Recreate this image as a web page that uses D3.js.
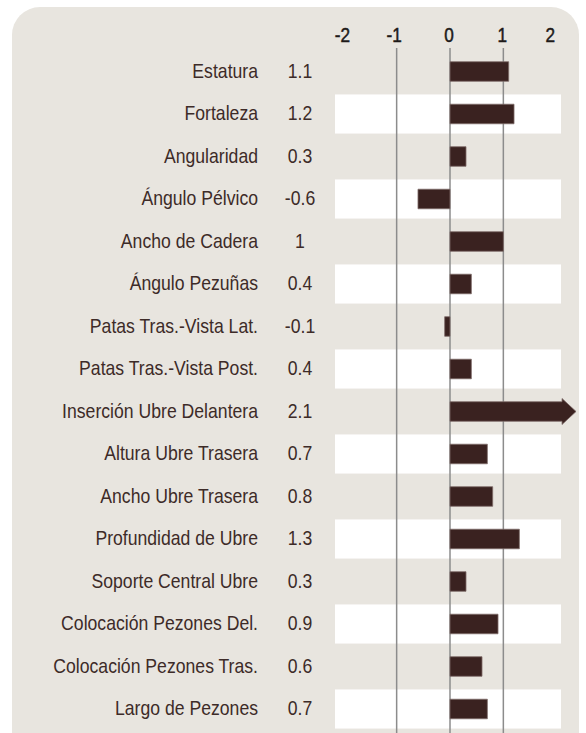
<!DOCTYPE html>
<html>
<head>
<meta charset="utf-8">
<script src="https://cdn.jsdelivr.net/npm/d3@7"></script>
<style>
  body { margin: 0; background: #fff; }
  svg { display: block; }
</style>
</head>
<body>
<svg id="chart" width="586" height="733"></svg>
<script>
// chart data
var traits = [
  'Estatura', 'Fortaleza', 'Angularidad', 'Ángulo Pélvico', 'Ancho de Cadera',
  'Ángulo Pezuñas', 'Patas Tras.-Vista Lat.', 'Patas Tras.-Vista Post.',
  'Inserción Ubre Delantera', 'Altura Ubre Trasera', 'Ancho Ubre Trasera',
  'Profundidad de Ubre', 'Soporte Central Ubre', 'Colocación Pezones Del.',
  'Colocación Pezones Tras.', 'Largo de Pezones'
];
var values = [1.1, 1.2, 0.3, -0.6, 1, 0.4, -0.1, 0.4, 2.1, 0.7, 0.8, 1.3, 0.3, 0.9, 0.6, 0.7];
var valueLabels = ['1.1', '1.2', '0.3', '-0.6', '1', '0.4', '-0.1', '0.4', '2.1', '0.7', '0.8', '1.3', '0.3', '0.9', '0.6', '0.7'];
var tickValues = [-2, -1, 0, 1, 2];
var gridValues = [-1, 0, 1];
var axisMax = 2;

var svg = d3.select('#chart');
var textColor = '#3d2b28';
var barColor = '#3a2220';
var condensed = 0.86; // the original uses a condensed face

// background panel
svg.append('rect')
  .attr('x', 12).attr('y', 7)
  .attr('width', 567).attr('height', 760)
  .attr('rx', 28)
  .attr('fill', '#e8e5df');

var x = d3.scaleLinear().domain([-2, 2]).range([343.3, 556.7]);
var y = d3.scaleBand().domain(traits).range([50.25, 730.25]).paddingInner(0).paddingOuter(0);
var step = y.step();

// white stripes on every second row
svg.append('g').selectAll('rect')
  .data(traits.filter(function(d, i) { return i % 2 == 1; }))
  .enter().append('rect')
    .attr('x', 335)
    .attr('width', 226)
    .attr('y', function(d) { return y(d) + step * 0.04; })
    .attr('height', step * 0.92)
    .attr('fill', '#ffffff');

// grid lines
svg.append('g').selectAll('line')
  .data(gridValues)
  .enter().append('line')
    .attr('x1', function(d) { return x(d); })
    .attr('x2', function(d) { return x(d); })
    .attr('y1', 48).attr('y2', 733)
    .attr('stroke', '#8c8c8c')
    .attr('stroke-width', 1.5);

// tick labels on top
var axis = d3.axisTop(x).tickValues(tickValues).tickSize(0).tickPadding(0)
  .tickFormat(function(d) { return String(d); });
var axisG = svg.append('g')
  .attr('transform', 'translate(0,42)')
  .call(axis);
axisG.select('.domain').remove();
// scale around tick origin: tick groups are translated, so scaling text keeps it centred
axisG.selectAll('.tick text')
  .attr('font-family', '"Liberation Sans", Arial, sans-serif')
  .attr('font-size', 20)
  .attr('fill', '#1e1a19')
  .attr('stroke', '#1e1a19')
  .attr('stroke-width', 0.5)
  .attr('transform', 'scale(' + condensed + ',1)')
  .attr('x', function(d) { return (d == 2 ? -7 : d == -1 ? -3 : -1.5) / condensed; });

var rows = traits.map(function(t, i) { return {name: t, value: values[i], label: valueLabels[i]}; });

// bars (with arrow for values past the axis end)
var barH = step * 0.46;
svg.append('g').selectAll('path')
  .data(rows)
  .enter().append('path')
    .attr('d', function(d) {
      var cy = y(d.name) + step / 2;
      var x0 = x(Math.min(0, d.value)), x1 = x(Math.max(0, d.value));
      var top = cy - barH / 2, bot = cy + barH / 2;
      if (d.value > axisMax) {
        var xe = x(d.value);
        return 'M' + x(0) + ',' + top + 'L' + xe + ',' + top + 'L' + xe + ',' + (cy - 13) +
          'L' + (xe + 14) + ',' + cy + 'L' + xe + ',' + (cy + 13) + 'L' + xe + ',' + bot +
          'L' + x(0) + ',' + bot + 'Z';
      }
      return 'M' + x0 + ',' + top + 'H' + x1 + 'V' + bot + 'H' + x0 + 'Z';
    })
    .attr('fill', barColor)
    .attr('stroke', '#7d6b68')
    .attr('stroke-width', 0.8);

function rowText(xPos, anchor, getText) {
  svg.append('g').selectAll('text')
    .data(rows)
    .enter().append('text')
      .attr('transform', function(d) {
        return 'translate(' + xPos + ',' + (y(d.name) + step / 2) + ') scale(' + condensed + ',1)';
      })
      .attr('dy', '0.3em')
      .attr('text-anchor', anchor)
      .attr('font-family', '"Liberation Sans", Arial, sans-serif')
      .attr('font-size', 20.5)
      .attr('fill', textColor)
      .text(getText);
}

// trait names and values
rowText(258, 'end', function(d) { return d.name; });
rowText(300, 'middle', function(d) { return d.label; });
</script>
</body>
</html>
